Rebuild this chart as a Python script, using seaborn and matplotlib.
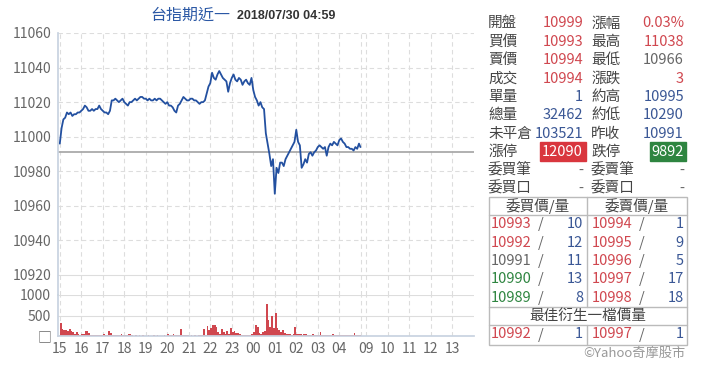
import numpy as np
import matplotlib
matplotlib.use('Agg')
import matplotlib.pyplot as plt
from matplotlib.patches import Rectangle
import seaborn as sns

# --- dados (cotação a cada 5 minutos desde as 15:00) ---
precos = [
    10996, 11005, 11010, 11011, 11014, 11013, 11014, 11012, 11013, 11013, 11014, 11014,  # 15
    11015, 11016, 11018, 11017, 11015, 11015, 11016, 11015, 11016, 11016, 11018, 11016,  # 16
    11015, 11014, 11014, 11013, 11015, 11021, 11021, 11022, 11021, 11020, 11021, 11022,  # 17
    11020, 11019, 11018, 11020, 11020, 11021, 11022, 11021, 11022, 11023, 11023, 11022,  # 18
    11022, 11021, 11022, 11021, 11021, 11022, 11021, 11022, 11022, 11021, 11020, 11019,  # 19
    11020, 11018, 11018, 11017, 11015, 11014, 11018, 11019, 11021, 11023, 11022, 11021,  # 20
    11021, 11022, 11022, 11021, 11021, 11020, 11019, 11020, 11020, 11021, 11025, 11029,  # 21
    11031, 11037, 11034, 11033, 11036, 11038, 11036, 11034, 11033, 11032, 11026, 11031,  # 22
    11034, 11036, 11033, 11032, 11034, 11033, 11030, 11032, 11033, 11031, 11030, 11034,  # 23
    11027, 11023, 11021, 11018, 11020, 11017, 11016, 11002, 10996, 10990, 10983, 10987,  # 00
    10967, 10982, 10979, 10985, 10985, 10983, 10987, 10989, 10991, 10993, 10995, 10997,  # 01
    11004, 10997, 10995, 10982, 10984, 10987, 10985, 10990, 10991, 10989, 10991, 10992,  # 02
    10994, 10995, 10994, 10993, 10994, 10989, 10994, 10996, 10995, 10997, 10996, 10995,  # 03
    10998, 10999, 10997, 10996, 10994, 10994, 10993, 10993, 10992, 10994, 10993, 10996,  # 04
    10994,
]
volumes = [
    320, 180, 140, 150, 120, 180, 110, 100, 60, 100, 40, 30,
    50, 60, 130, 120, 80, 30, 25, 20, 25, 30, 20, 25,
    60, 20, 30, 130, 70, 30, 20, 25, 20, 15, 40, 30,
    20, 15, 40, 50, 20, 10, 15, 10, 20, 10, 15, 10,
    10, 15, 10, 10, 20, 10, 15, 10, 0, 10, 15, 10,
    60, 20, 15, 40, 20, 15, 20, 160, 30, 15, 20, 15,
    10, 15, 10, 15, 10, 15, 20, 25, 160, 30, 240, 150,
    190, 270, 280, 220, 100, 60, 170, 90, 60, 120, 40, 190,
    90, 120, 70, 80, 40, 30, 20, 25, 30, 20, 30, 40,
    100, 260, 230, 70, 60, 90, 110, 780, 390, 230, 500, 200,
    550, 200, 150, 90, 140, 70, 50, 60, 40, 30, 50, 230,
    60, 50, 40, 30, 40, 60, 30, 20, 30, 40, 25, 20,
    30, 100, 20, 30, 20, 25, 30, 20, 60, 20, 30, 20,
    25, 20, 30, 20, 25, 20, 20, 25, 65, 20, 15, 25,
]
fechamento_anterior = 10991
horas = ['15', '16', '17', '18', '19', '20', '21', '22', '23', '00', '01', '02', '03', '04',
         '09', '10', '11', '12', '13']
ticks_preco = [10920, 10940, 10960, 10980, 11000, 11020, 11040, 11060]
ticks_volume = [0, 500, 1000]

rotulos_esq = ['開盤', '買價', '賣價', '成交', '單量', '總量', '未平倉', '漲停', '委買筆', '委買口']
valores_esq = ['10999', '10993', '10994', '10994', '1', '32462', '103521', '12090', '-', '-']
rotulos_dir = ['漲幅', '最高', '最低', '漲跌', '約高', '約低', '昨收', '跌停', '委賣筆', '委賣口']
valores_dir = ['0.03%', '11038', '10966', '3', '10995', '10290', '10991', '9892', '-', '-']

compra_precos = ['10993', '10992', '10991', '10990', '10989']
compra_qtd = [10, 12, 11, 13, 8]
venda_precos = ['10994', '10995', '10996', '10997', '10998']
venda_qtd = [1, 9, 5, 17, 18]
melhor_compra = ('10992', 1)
melhor_venda = ('10997', 1)

# --- cores ---
AZUL = '#2350a0'
VERMELHO = '#d0474f'
CINZA = '#666666'
AZUL_TXT = '#3a5795'
VERDE = '#2e8540'

sns.set_theme(style='white')
plt.rcParams['font.family'] = ['Noto Sans CJK TC', 'DejaVu Sans']

fig = plt.figure(figsize=(7.2, 3.65), dpi=100)

def caixa(px_left, px_top, px_right, px_bottom):
    return [px_left / 720, 1 - px_bottom / 365, (px_right - px_left) / 720, (px_bottom - px_top) / 365]

# posição dos minutos no eixo (sessão noturna 15:00-05:00 e diurna 08:45-13:45)
minutos = list(range(0, 840, 5)) + [839]
pos_horas = [i * 60 for i in range(14)] + [855, 915, 975, 1035, 1095]
linhas_grade = pos_horas + [840]
xlim = (-5, 1156)

ax = fig.add_axes(caixa(58, 33, 474, 295))
ax_v = fig.add_axes(caixa(58, 295, 474, 336))

sns.lineplot(x=minutos, y=precos, ax=ax, color=AZUL, linewidth=1.3)
ax.axhline(fechamento_anterior, color='#aaaaaa', linewidth=1.3, zorder=1)
ax.set_xlim(*xlim)
ax.set_ylim(10908.4, 11060)
ax.set_yticks(ticks_preco)
ax.set_xticks([])
for y in ticks_preco:
    ax.axhline(y, color='#dddddd', linewidth=0.8, linestyle=(0, (4, 3)) if y != 10920 else '-', zorder=0)
for x in linhas_grade:
    ax.axvline(x, color='#dddddd', linewidth=0.8, linestyle=(0, (4, 3)), zorder=0)
ax.tick_params(axis='y', colors=CINZA, labelsize=10, length=0, pad=5)
for s in ['top', 'right', 'bottom']:
    ax.spines[s].set_visible(False)
ax.spines['left'].set_color('#c8d3e0')

ax_v.bar([m + 2.5 for m in minutos[:len(volumes)]], volumes, width=5, color=VERMELHO, linewidth=0)
ax_v.axhline(3, color=VERMELHO, linewidth=1, xmax=(842 - xlim[0]) / (xlim[1] - xlim[0]))
ax_v.set_xlim(*xlim)
ax_v.set_ylim(0, 1000)
ax_v.set_yticks(ticks_volume)
ax_v.set_yticklabels(['□', '500', '1000'])
ax_v.set_xticks(pos_horas)
ax_v.set_xticklabels(horas)
for y in [500, 1000]:
    ax_v.axhline(y, color='#dddddd', linewidth=0.8, zorder=0)
for x in linhas_grade:
    ax_v.axvline(x, color='#dddddd', linewidth=0.8, linestyle=(0, (4, 3)), zorder=0)
ax_v.tick_params(axis='y', colors=CINZA, labelsize=10, length=0, pad=5)
ax_v.tick_params(axis='x', colors=CINZA, labelsize=10, length=0, pad=4)
for s in ['top', 'right']:
    ax_v.spines[s].set_visible(False)
ax_v.spines['left'].set_color('#c8d3e0')
ax_v.spines['bottom'].set_color('#c8d3e0')

# --- camada de texto em pixels ---
ov = fig.add_axes([0, 0, 1, 1], facecolor='none')
ov.set_xlim(0, 720)
ov.set_ylim(365, 0)
ov.axis('off')

ov.text(230, 15, '台指期近一', color='#2b58a5', fontsize=11.5, ha='right', va='center')
ov.text(237, 16, '2018/07/30 04:59', color='#333333', fontsize=9, fontweight='bold',
        ha='left', va='center', family='Liberation Sans')

cores_esq = [VERMELHO, VERMELHO, VERMELHO, VERMELHO, AZUL_TXT, AZUL_TXT, AZUL_TXT, 'white', CINZA, CINZA]
cores_dir = [VERMELHO, VERMELHO, CINZA, VERMELHO, AZUL_TXT, AZUL_TXT, AZUL_TXT, 'white', CINZA, CINZA]
linhas_y = [23.3, 41.7, 60.2, 78.6, 97, 115.3, 133.7, 152, 170.4, 188.7]
ov.add_patch(Rectangle((539.5, 142), 46, 19, color='#d9363e', zorder=1))
ov.add_patch(Rectangle((649.5, 142), 36, 19, color=VERDE, zorder=1))
for i, y in enumerate(linhas_y):
    ov.text(488, y, rotulos_esq[i], color='#444444', fontsize=10.5, va='center', ha='left')
    ov.text(583, y, valores_esq[i], color=cores_esq[i], fontsize=10.5, va='center', ha='right', zorder=2)
    ov.text(591, y, rotulos_dir[i], color='#444444', fontsize=10.5, va='center', ha='left')
    ov.text(684, y, valores_dir[i], color=cores_dir[i], fontsize=10.5, va='center', ha='right', zorder=2)

# tabela de ofertas
cor_borda = '#bbbbbb'
ov.add_patch(Rectangle((489, 197), 197.5, 147.5, fill=False, edgecolor=cor_borda, linewidth=1))
for y in [215, 307.3, 325]:
    ov.plot([489, 686.5], [y, y], color=cor_borda, linewidth=1)
ov.plot([586.7, 586.7], [197, 307.3], color=cor_borda, linewidth=1)
ov.plot([586.7, 586.7], [325, 344.5], color=cor_borda, linewidth=1)
ov.text(537.5, 206.5, '委買價/量', color='#444444', fontsize=10.5, ha='center', va='center')
ov.text(636.5, 206.5, '委賣價/量', color='#444444', fontsize=10.5, ha='center', va='center')

cores_compra = [VERMELHO, VERMELHO, CINZA, VERDE, VERDE]
for i in range(5):
    y = 224.3 + i * 18.35
    ov.text(491, y, compra_precos[i], color=cores_compra[i], fontsize=10.5, va='center', ha='left')
    ov.text(541, y, '/', color=CINZA, fontsize=10.5, va='center', ha='center')
    ov.text(583, y, str(compra_qtd[i]), color=AZUL_TXT, fontsize=10.5, va='center', ha='right')
    ov.text(592, y, venda_precos[i], color=VERMELHO, fontsize=10.5, va='center', ha='left')
    ov.text(642, y, '/', color=CINZA, fontsize=10.5, va='center', ha='center')
    ov.text(684, y, str(venda_qtd[i]), color=AZUL_TXT, fontsize=10.5, va='center', ha='right')

ov.text(587.5, 316, '最佳衍生一檔價量', color='#444444', fontsize=10.5, ha='center', va='center')
y = 334.5
ov.text(491, y, melhor_compra[0], color=VERMELHO, fontsize=10.5, va='center', ha='left')
ov.text(541, y, '/', color=CINZA, fontsize=10.5, va='center', ha='center')
ov.text(583, y, str(melhor_compra[1]), color=AZUL_TXT, fontsize=10.5, va='center', ha='right')
ov.text(592, y, melhor_venda[0], color=VERMELHO, fontsize=10.5, va='center', ha='left')
ov.text(642, y, '/', color=CINZA, fontsize=10.5, va='center', ha='center')
ov.text(684, y, str(melhor_venda[1]), color=AZUL_TXT, fontsize=10.5, va='center', ha='right')

ov.text(686, 353.5, '©Yahoo奇摩股市', color='#999999', fontsize=9.5, ha='right', va='center')

fig.savefig('out.png', dpi=100)
